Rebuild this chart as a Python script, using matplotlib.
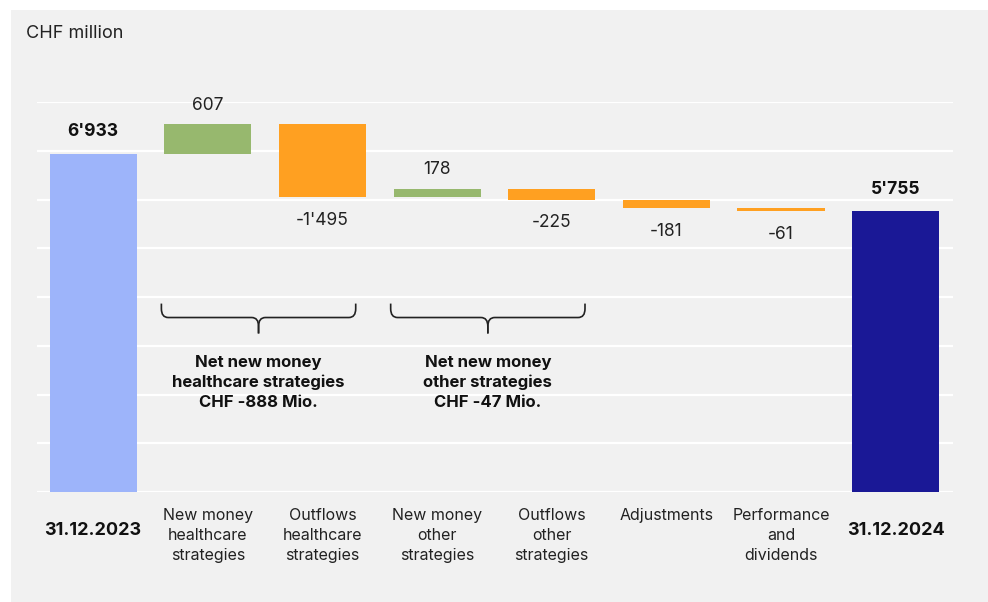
import matplotlib.pyplot as plt
from matplotlib.patches import Rectangle
from matplotlib.path import Path
from matplotlib.patches import PathPatch

plt.rcParams['font.family'] = ['Inter', 'DejaVu Sans']

# data
categories = ['31.12.2023', 'New money\nhealthcare\nstrategies', 'Outflows\nhealthcare\nstrategies',
              'New money\nother\nstrategies', 'Outflows\nother\nstrategies', 'Adjustments',
              'Performance\nand\ndividends', '31.12.2024']
values = [6933, 607, -1495, 178, -225, -181, -61, 5755]
value_labels = ["6'933", "607", "-1'495", "178", "-225", "-181", "-61", "5'755"]
groups = [(1, 2), (3, 4)]
group_labels = ['Net new money\nhealthcare strategies\nCHF -888 Mio.',
                'Net new money\nother strategies\nCHF -47 Mio.']

c_start = '#9db4fa'
c_up = '#97b86e'
c_down = '#ffa021'
c_end = '#1a1896'
bg = '#f1f1f1'

fig = plt.figure(figsize=(9.88, 6.02), dpi=100)
fig.patches.append(Rectangle((11 / 988, 0), 1, 1 - 10 / 602, transform=fig.transFigure,
                             facecolor=bg, edgecolor='none', zorder=-10))

ax = fig.add_axes([37 / 988, 1 - 492 / 602, 916 / 988, 390 / 602])
ax.patch.set_alpha(0)
for s in ax.spines.values():
    s.set_visible(False)
ax.set_xlim(-0.49, 7.5)
ax.set_ylim(0, 8000)
ax.set_yticks(range(0, 8001, 1000))
ax.yaxis.grid(True, color='white', linewidth=1.6)
ax.set_axisbelow(True)
ax.tick_params(left=False, bottom=False, labelleft=False, labelbottom=False)

w = 0.76
running = 0
for i, v in enumerate(values):
    if i == 0 or i == len(values) - 1:
        color = c_start if i == 0 else c_end
        running = v
        ax.bar(i, v, width=w, color=color, zorder=3)
        ax.text(i, v + 280, value_labels[i], ha='center', va='bottom',
                fontsize=12.5, fontweight='bold', color='#111111')
    else:
        new = running + v
        color = c_up if v > 0 else c_down
        ax.bar(i, v, bottom=running, width=w, color=color, zorder=3)
        if v > 0:
            ax.text(i, new + 220, value_labels[i], ha='center', va='bottom',
                    fontsize=12.5, color='#222222')
        else:
            ax.text(i, new - 300, value_labels[i], ha='center', va='top',
                    fontsize=12.5, color='#222222')
        running = new

for i, lab in enumerate(categories):
    if i == 0 or i == len(categories) - 1:
        ax.text(i, -780, lab, ha='center', va='center', fontsize=13,
                fontweight='bold', color='#111111')
    else:
        ax.text(i, -320, lab, ha='center', va='top', fontsize=11.5,
                color='#222222', linespacing=1.42)

# braces under the grouped flows
for (a, b), lab in zip(groups, group_labels):
    x0, x1 = a - 0.405, b + 0.29
    xm = (x0 + x1) / 2
    ytop, yline, ybot = 3865, 3579, 3252
    rx, ry = 0.06, 180
    for xe, sgn in ((x0, 1), (x1, -1)):
        verts = [(xe, ytop), (xe, yline + ry), (xe, yline), (xe + sgn * rx, yline),
                 (xm - sgn * rx, yline), (xm, yline), (xm, yline - ry), (xm, ybot)]
        codes = [Path.MOVETO, Path.LINETO, Path.CURVE3, Path.CURVE3,
                 Path.LINETO, Path.CURVE3, Path.CURVE3, Path.LINETO]
        ax.add_patch(PathPatch(Path(verts, codes), fill=False, lw=1.2,
                               edgecolor='#222222', zorder=4))
    ax.text(xm, 2250, lab, ha='center', va='center', fontsize=12,
            fontweight='bold', color='#111111', linespacing=1.4)

fig.text(26 / 988, 1 - 33 / 602, 'CHF million', ha='left', va='center',
         fontsize=13, color='#222222')

fig.savefig('out.png', dpi=100, facecolor='white')
